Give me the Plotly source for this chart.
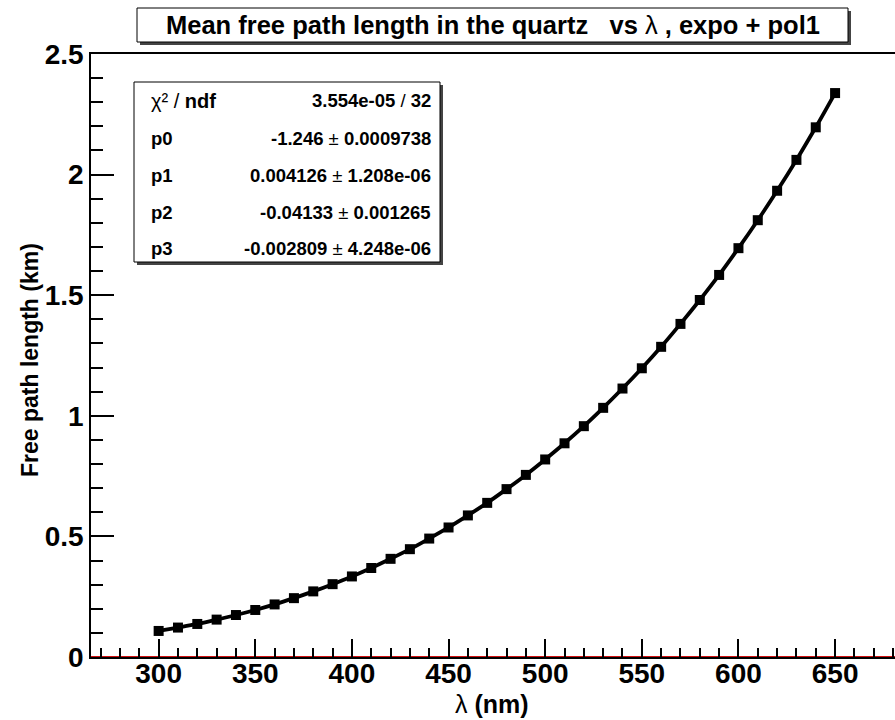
import plotly.graph_objects as go

# ---- data ----
wavelength_nm = [300, 310, 320, 330, 340, 350, 360, 370, 380, 390,
                 400, 410, 420, 430, 440, 450, 460, 470, 480, 490,
                 500, 510, 520, 530, 540, 550, 560, 570, 580, 590,
                 600, 610, 620, 630, 640, 650]
free_path_km = [0.108, 0.122, 0.137, 0.155, 0.174, 0.195, 0.218, 0.244, 0.272, 0.302,
                0.334, 0.369, 0.407, 0.447, 0.491, 0.537, 0.587, 0.639, 0.696, 0.755,
                0.819, 0.886, 0.957, 1.033, 1.113, 1.197, 1.286, 1.381, 1.480, 1.584,
                1.695, 1.811, 1.933, 2.061, 2.196, 2.338]
stat_labels = ["χ² / <b>ndf</b>", "<b>p0</b>", "<b>p1</b>", "<b>p2</b>", "<b>p3</b>"]
stat_values = ["<b>3.554e-05</b> / <b>32</b>",
               "<b>-1.246</b> ± <b>0.0009738</b>",
               "<b>0.004126</b> ± <b>1.208e-06</b>",
               "<b>-0.04133</b> ± <b>0.001265</b>",
               "<b>-0.002809</b> ± <b>4.248e-06</b>"]
title_text = "<b>Mean free path length in the quartz   vs </b>λ<b> , expo + pol1</b>"
x_title = "λ <b>(nm)</b>"
y_title = "<b>Free path length (km)</b>"
x_range = [265, 681]
y_range = [0, 2.5]

W, H = 895, 720
L, T, R, B = 91, 54, 0, 63
PW, PH = W - L - R, H - T - B


def px(x, y):
    return (x - L) / PW, (H - B - y) / PH


FONT = "Liberation Sans, Arial, sans-serif"

fig = go.Figure()
fig.add_trace(go.Scatter(x=x_range, y=[0, 0], mode="lines",
                         line=dict(color="#d01010", width=2),
                         hoverinfo="skip", showlegend=False, cliponaxis=False))
fig.add_trace(go.Scatter(x=wavelength_nm, y=free_path_km, mode="lines+markers",
                         line=dict(color="black", width=3.8, shape="spline"),
                         marker=dict(symbol="square", size=10, color="black"),
                         showlegend=False, cliponaxis=False))

shapes = []
annotations = []

# title box with shadow
tx0, ty0 = px(137, 8)
tx1, ty1 = px(848, 42)
sx0, sy0 = px(140, 11)
sx1, sy1 = px(851, 45)
shapes.append(dict(type="rect", xref="paper", yref="paper", x0=sx0, y0=sy0, x1=sx1, y1=sy1,
                   line=dict(width=0), fillcolor="#444444", layer="above"))
shapes.append(dict(type="rect", xref="paper", yref="paper", x0=tx0, y0=ty0, x1=tx1, y1=ty1,
                   line=dict(color="black", width=1), fillcolor="white", layer="above"))
cx, cy = px(493, 25)
annotations.append(dict(text=title_text, xref="paper", yref="paper", x=cx, y=cy,
                        xanchor="center", yanchor="middle", showarrow=False,
                        font=dict(family=FONT, size=25.5, color="black")))

# stats box with shadow
bx0, by0 = px(134, 82)
bx1, by1 = px(440, 262)
bsx0, bsy0 = px(137, 85)
bsx1, bsy1 = px(443, 265)
shapes.append(dict(type="rect", xref="paper", yref="paper", x0=bsx0, y0=bsy0, x1=bsx1, y1=bsy1,
                   line=dict(width=0), fillcolor="#444444", layer="above"))
shapes.append(dict(type="rect", xref="paper", yref="paper", x0=bx0, y0=by0, x1=bx1, y1=by1,
                   line=dict(color="black", width=1), fillcolor="white", layer="above"))
row_y = [101, 138, 175, 212, 249]
for i, (lab, val, ry) in enumerate(zip(stat_labels, stat_values, row_y)):
    lx, ly = px(149, ry)
    rx, _ = px(433, ry)
    annotations.append(dict(text=lab, xref="paper", yref="paper", x=lx, y=ly,
                            xanchor="left", yanchor="middle", showarrow=False,
                            font=dict(family=FONT, size=20 if i == 0 else 18.5, color="black")))
    annotations.append(dict(text=val, xref="paper", yref="paper", x=rx, y=ly,
                            xanchor="right", yanchor="middle", showarrow=False,
                            font=dict(family=FONT, size=18.5, color="black")))

# axis titles
ax, ay = px(492, 704)
annotations.append(dict(text=x_title, xref="paper", yref="paper", x=ax, y=ay,
                        xanchor="center", yanchor="middle", showarrow=False,
                        font=dict(family=FONT, size=25, color="black")))
yx, yy = px(30, 360)
annotations.append(dict(text=y_title, xref="paper", yref="paper", x=yx, y=yy,
                        xanchor="center", yanchor="middle", textangle=-90, showarrow=False,
                        font=dict(family=FONT, size=23, color="black")))

fig.update_layout(
    width=W, height=H,
    margin=dict(l=L, r=R, t=T, b=B, pad=0),
    paper_bgcolor="white", plot_bgcolor="white",
    shapes=shapes, annotations=annotations,
    showlegend=False,
    xaxis=dict(range=x_range, showgrid=False, zeroline=False,
               showline=True, linecolor="black", linewidth=1.5, mirror=True,
               ticks="inside", ticklen=18, tickwidth=1.5, tickcolor="black",
               tick0=300, dtick=50, ticklabelstandoff=-9,
               minor=dict(ticks="inside", ticklen=9, tickwidth=1.5, tickcolor="black",
                          dtick=10, tick0=300, showgrid=False),
               tickfont=dict(family=FONT, size=28, color="black", weight="bold")),
    yaxis=dict(range=y_range, showgrid=False, zeroline=False,
               showline=True, linecolor="black", linewidth=1.5, mirror=False,
               ticks="inside", ticklen=23, tickwidth=1.5, tickcolor="black",
               tick0=0, dtick=0.5,
               minor=dict(ticks="inside", ticklen=12, tickwidth=1.5, tickcolor="black",
                          dtick=0.1, tick0=0, showgrid=False),
               tickfont=dict(family=FONT, size=28, color="black", weight="bold")),
)

fig.write_html("out.html")
